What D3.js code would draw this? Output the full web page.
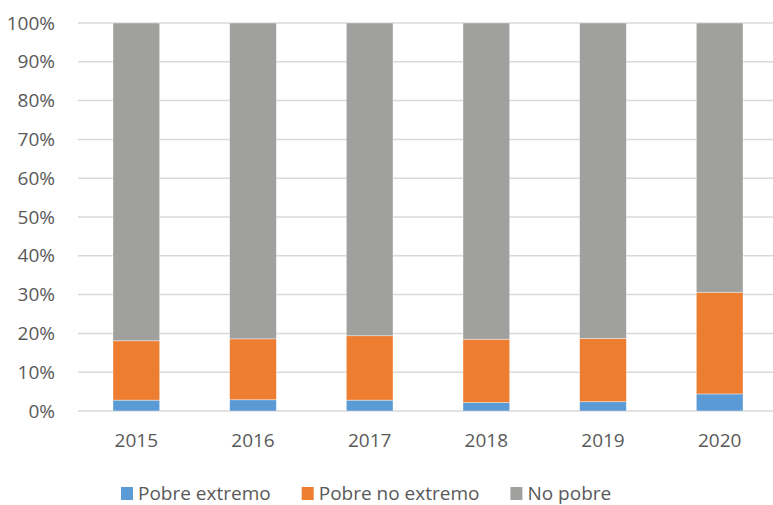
<!DOCTYPE html>
<html>
<head>
<meta charset="utf-8">
<script src="https://cdn.jsdelivr.net/npm/d3@7"></script>
<style>
  body { margin: 0; background: #fff; }
  text { font-family: "Open Sans", "Noto Sans", sans-serif; fill: #595959; }
</style>
</head>
<body>
<div class="chart"></div>
<script>
var svgWidth = 773;
var svgHeight = 505;

// data (percent)
var years = ["2015", "2016", "2017", "2018", "2019", "2020"];
var pobreExtremo = [2.8, 2.9, 2.8, 2.2, 2.4, 4.4];
var pobreNoExtremo = [15.3, 15.7, 16.6, 16.3, 16.3, 26.2];
var noPobre = [81.9, 81.4, 80.6, 81.5, 81.3, 69.4];
var seriesNames = ["Pobre extremo", "Pobre no extremo", "No pobre"];
var colors = ["#5B9BD5", "#ED7D31", "#A0A09F"];
var yTicks = [0, 10, 20, 30, 40, 50, 60, 70, 80, 90, 100];

var margin = { top: 23, left: 78, bottom: 94 };
var plotRight = 778;
var height = svgHeight - margin.top - margin.bottom;

var svg = d3.select(".chart")
  .append("svg")
  .attr("width", svgWidth)
  .attr("height", svgHeight);

var rows = years.map(function(y, i) {
  return { year: y, "Pobre extremo": pobreExtremo[i], "Pobre no extremo": pobreNoExtremo[i], "No pobre": noPobre[i] };
});
var stacked = d3.stack().keys(seriesNames)(rows);

var xScale = d3.scaleBand()
  .domain(years)
  .range([margin.left, plotRight])
  .paddingInner(0.6)
  .paddingOuter(0.3);

var yScale = d3.scaleLinear()
  .domain([0, 100])
  .range([margin.top + height, margin.top]);

// gridlines
svg.append("g")
  .selectAll("line")
  .data(yTicks)
  .enter()
  .append("line")
  .attr("x1", margin.left)
  .attr("x2", plotRight)
  .attr("y1", d => yScale(d))
  .attr("y2", d => yScale(d))
  .attr("stroke", "#D9D9D9")
  .attr("stroke-width", 1.5);

// y axis labels
var leftAxis = d3.axisLeft(yScale)
  .tickValues(yTicks)
  .tickFormat(d => d + "%")
  .tickSize(0)
  .tickPadding(23);
var yAxis = svg.append("g")
  .attr("transform", `translate(${margin.left},0)`)
  .call(leftAxis);
yAxis.select(".domain").remove();
yAxis.selectAll("text").style("font-size", "19px").attr("fill", "#595959");

// bars
svg.append("g")
  .selectAll("g")
  .data(stacked)
  .enter()
  .append("g")
  .attr("fill", (d, i) => colors[i])
  .selectAll("rect")
  .data(d => d)
  .enter()
  .append("rect")
  .attr("x", d => xScale(d.data.year))
  .attr("width", xScale.bandwidth())
  .attr("y", d => yScale(d[1]))
  .attr("height", d => yScale(d[0]) - yScale(d[1]))
  .attr("stroke", "rgba(255,255,255,0.5)")
  .attr("stroke-width", 0.75);

// x axis
var bottomAxis = d3.axisBottom(xScale).tickSize(0).tickPadding(23);
var xAxis = svg.append("g")
  .attr("transform", `translate(0,${yScale(0)})`)
  .call(bottomAxis);
xAxis.select(".domain").remove();
xAxis.selectAll("text").style("font-size", "19px").attr("fill", "#595959");

// legend (kept a little above the bottom edge so descenders fit)
var legend = svg.append("g");
var lx = 121;
seriesNames.forEach(function(name, i) {
  legend.append("rect")
    .attr("x", lx)
    .attr("y", 487)
    .attr("width", 12)
    .attr("height", 13)
    .attr("fill", colors[i]);
  var t = legend.append("text")
    .attr("x", lx + 17)
    .attr("y", 493)
    .attr("dy", "0.35em")
    .style("font-size", "19px")
    .text(name);
  lx = lx + 17 + t.node().getComputedTextLength() + 31;
});
</script>
</body>
</html>
